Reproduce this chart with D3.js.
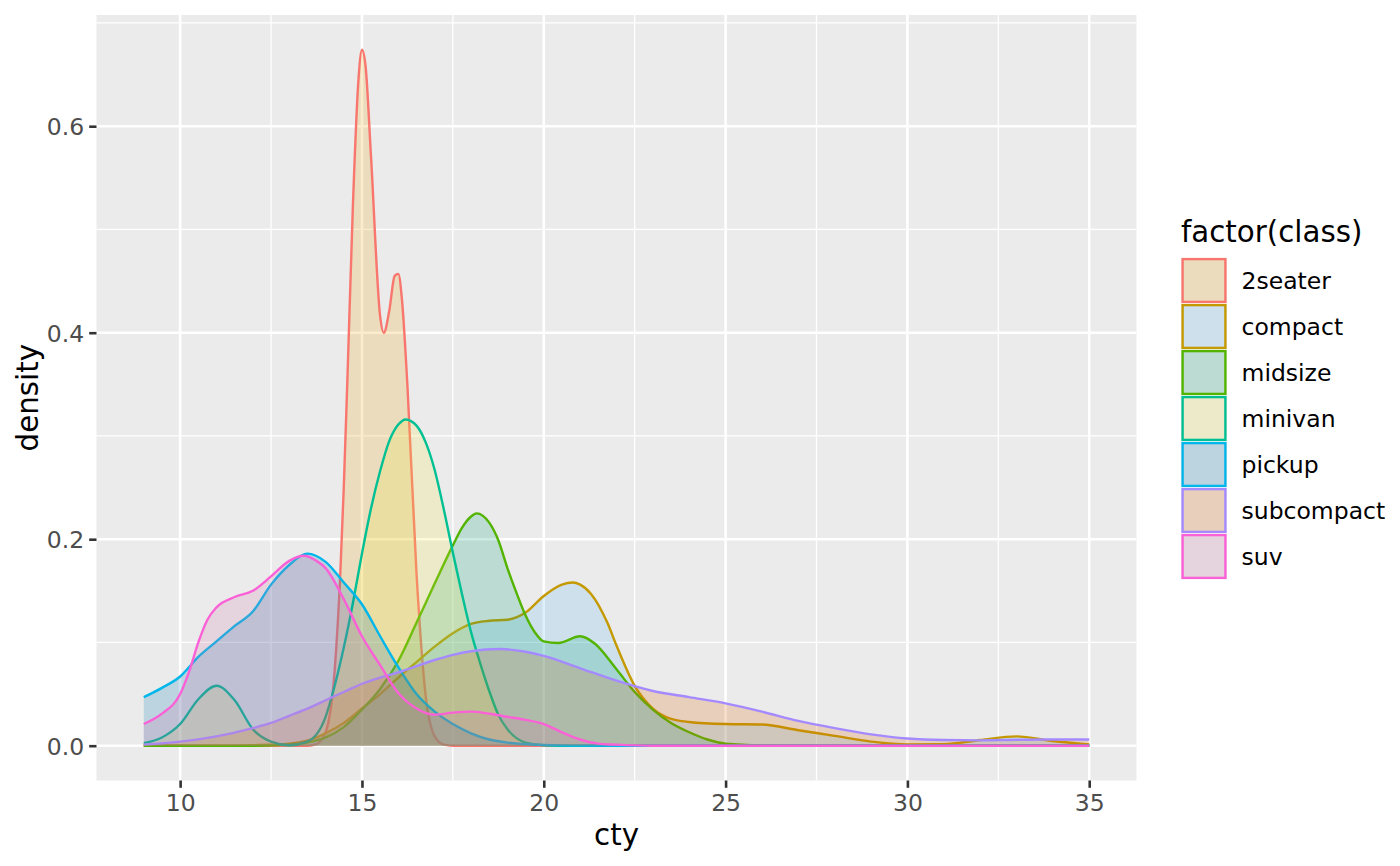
<!DOCTYPE html>
<html>
<head>
<meta charset="utf-8">
<script src="https://cdn.jsdelivr.net/npm/d3@7"></script>
<style>
  html, body { margin: 0; padding: 0; background: #ffffff; }
  svg { display: block; font-family: "DejaVu Sans", sans-serif; }
</style>
</head>
<body>
<svg id="chart" width="1400" height="866"></svg>
<script>
// ---------------- data ----------------
const classes = ["2seater", "compact", "midsize", "minivan", "pickup", "subcompact", "suv"];
const xTicks = [10, 15, 20, 25, 30, 35];
const yTicks = [0.0, 0.2, 0.4, 0.6];
const yTickLabels = ["0.0", "0.2", "0.4", "0.6"];

const dens2seater = [[9,0],[13.5,0],[13.75,0.0015],[14,0.013],[14.25,0.073],[14.4,0.163],[14.5,0.25],[14.6,0.355],[14.75,0.522],[14.9,0.643],[15,0.674],[15.1,0.658],[15.25,0.57],[15.5,0.416],[15.6,0.4],[15.75,0.421],[15.9,0.455],[16,0.457],[16.1,0.432],[16.25,0.349],[16.5,0.167],[16.75,0.049],[17,0.009],[17.25,0.001],[17.5,0],[35,0]];
const densCompact = [[9,0],[11,0],[12,0.0005],[13,0.002],[13.5,0.005],[14,0.012],[14.5,0.022],[15,0.036],[15.5,0.05],[16,0.066],[16.5,0.081],[17,0.096],[17.5,0.109],[18,0.118],[18.5,0.121],[19,0.122],[19.5,0.129],[20,0.145],[20.5,0.156],[20.8,0.158],[21,0.156],[21.3,0.147],[21.75,0.119],[22,0.097],[22.5,0.058],[23,0.036],[23.5,0.026],[24,0.023],[25,0.021],[26,0.0205],[27,0.015],[28,0.0095],[29,0.004],[30,0.0012],[31,0.0015],[32,0.0055],[33,0.009],[34,0.0045],[35,0.0012]];
const densMidsize = [[9,0],[12,0],[13,0.001],[13.5,0.003],[14,0.008],[14.5,0.018],[15,0.035],[15.5,0.055],[16,0.082],[16.5,0.119],[17,0.157],[17.5,0.194],[17.75,0.211],[18,0.222],[18.15,0.225],[18.5,0.216],[18.75,0.199],[19,0.172],[19.25,0.148],[19.5,0.126],[19.75,0.11],[20,0.101],[20.4,0.0995],[21,0.106],[21.4,0.099],[22,0.074],[22.5,0.052],[23,0.035],[23.5,0.022],[24,0.013],[24.5,0.006],[25,0.002],[26,0.0003],[27,0],[35,0]];
const densMinivan = [[9,0.0025],[9.5,0.008],[10,0.021],[10.5,0.045],[11,0.058],[11.5,0.044],[12,0.016],[12.5,0.004],[13,0.0005],[13.5,0.004],[14,0.028],[14.25,0.058],[14.5,0.095],[14.75,0.138],[15,0.186],[15.25,0.23],[15.5,0.266],[15.75,0.295],[16,0.311],[16.2,0.316],[16.5,0.31],[16.75,0.294],[17,0.267],[17.25,0.229],[17.5,0.187],[17.75,0.147],[18,0.11],[18.25,0.08],[18.5,0.053],[18.75,0.03],[19,0.016],[19.5,0.003],[20,0.0005],[21,0],[35,0]];
const densPickup = [[9,0.047],[9.5,0.056],[10,0.067],[10.5,0.086],[11,0.101],[11.5,0.116],[12,0.13],[12.5,0.156],[13,0.175],[13.5,0.186],[14,0.178],[14.5,0.158],[15,0.137],[15.5,0.106],[16,0.076],[16.5,0.05],[17,0.033],[17.5,0.021],[18,0.012],[18.5,0.006],[19,0.003],[20,0.0008],[21,0.0001],[22,0],[35,0]];
const densSubcompact = [[9,0.001],[10,0.004],[11,0.009],[12,0.017],[12.5,0.022],[13,0.029],[13.5,0.036],[14,0.044],[14.5,0.052],[15,0.06],[15.5,0.066],[16,0.071],[17,0.083],[17.5,0.088],[18,0.0915],[18.8,0.0936],[19.5,0.091],[20,0.087],[21,0.075],[22,0.063],[23,0.053],[24,0.047],[25,0.041],[26,0.033],[27,0.024],[28,0.017],[29,0.011],[30,0.007],[31,0.0055],[32,0.0052],[33,0.0057],[34,0.006],[35,0.006]];
const densSuv = [[9,0.021],[9.5,0.031],[10,0.05],[10.25,0.072],[10.5,0.1],[10.75,0.122],[11,0.134],[11.5,0.144],[12,0.15],[12.5,0.164],[13,0.179],[13.4,0.184],[13.75,0.179],[14,0.172],[14.5,0.142],[15,0.106],[15.5,0.078],[16,0.051],[16.5,0.036],[17,0.03],[17.5,0.032],[18,0.033],[18.5,0.031],[19,0.028],[19.5,0.025],[20,0.021],[20.5,0.013],[21,0.006],[21.5,0.002],[22,0.001],[23,0],[35,0]];

const seriesData = [dens2seater, densCompact, densMidsize, densMinivan, densPickup, densSubcompact, densSuv];

// ---------------- styles ----------------
const lineColors = ["#F8766D", "#C49A00", "#53B400", "#00C094", "#00B6EB", "#A58AFF", "#FB61D7"];
const fillColors = ["#E69F00", "#56B4E9", "#009E73", "#F0E442", "#0072B2", "#D55E00", "#CC79A7"];
const fillOpacity = 0.2;
const lineW = 2.4;

// ---------------- layout ----------------
const panel = { left: 96.5, right: 1136.5, top: 15, bottom: 780.5 };
const svg = d3.select("#chart");

const allX = seriesData.flat().map(d => d[0]);
const allY = seriesData.flat().map(d => d[1]);
const [xMin, xMax] = d3.extent(allX);
const [yMin, yMax] = d3.extent(allY);
const xPad = (xMax - xMin) * 0.05, yPad = (yMax - yMin) * 0.05;

const x = d3.scaleLinear().domain([xMin - xPad, xMax + xPad]).range([panel.left, panel.right]);
const y = d3.scaleLinear().domain([yMin - yPad, yMax + yPad]).range([panel.bottom, panel.top]);

// panel background
svg.append("rect")
  .attr("x", panel.left).attr("y", panel.top)
  .attr("width", panel.right - panel.left).attr("height", panel.bottom - panel.top)
  .attr("fill", "#EBEBEB");

const gridG = svg.append("g");
// minor grid (midway between major breaks)
const xMinor = [];
for (let i = 0; i < xTicks.length + 1; i++) {
  const v = (i === 0 ? xTicks[0] - 2.5 : xTicks[i - 1] + 2.5);
  if (v > x.domain()[0] && v < x.domain()[1]) xMinor.push(v);
}
const yMinor = [];
for (let i = 0; i < yTicks.length + 1; i++) {
  const v = (i === 0 ? yTicks[0] - 0.1 : yTicks[i - 1] + 0.1);
  if (v > y.domain()[0] && v < y.domain()[1]) yMinor.push(+v.toFixed(3));
}
gridG.selectAll(".xminor").data(xMinor).enter().append("line")
  .attr("x1", d => x(d)).attr("x2", d => x(d)).attr("y1", panel.top).attr("y2", panel.bottom)
  .attr("stroke", "#ffffff").attr("stroke-width", 1.3);
gridG.selectAll(".yminor").data(yMinor).enter().append("line")
  .attr("y1", d => y(d)).attr("y2", d => y(d)).attr("x1", panel.left).attr("x2", panel.right)
  .attr("stroke", "#ffffff").attr("stroke-width", 1.3);
gridG.selectAll(".xmajor").data(xTicks).enter().append("line")
  .attr("x1", d => x(d)).attr("x2", d => x(d)).attr("y1", panel.top).attr("y2", panel.bottom)
  .attr("stroke", "#ffffff").attr("stroke-width", 2.6);
gridG.selectAll(".ymajor").data(yTicks).enter().append("line")
  .attr("y1", d => y(d)).attr("y2", d => y(d)).attr("x1", panel.left).attr("x2", panel.right)
  .attr("stroke", "#ffffff").attr("stroke-width", 2.6);

// densities
const area = d3.area().x(d => x(d[0])).y0(y(0)).y1(d => y(d[1])).curve(d3.curveMonotoneX);
const line = d3.line().x(d => x(d[0])).y(d => y(d[1])).curve(d3.curveMonotoneX);
const plotG = svg.append("g");
seriesData.forEach((s, i) => {
  const g = plotG.append("g");
  g.append("path").attr("d", area(s)).attr("fill", fillColors[i]).attr("fill-opacity", fillOpacity);
  g.append("path").attr("d", line(s)).attr("fill", "none").attr("stroke", lineColors[i])
    .attr("stroke-width", lineW).attr("stroke-linejoin", "round");
});

// axes
const xAxis = d3.axisBottom(x).tickValues(xTicks).tickSize(7.3).tickPadding(4).tickFormat(d3.format("d"));
const yAxis = d3.axisLeft(y).tickValues(yTicks).tickSize(7.3).tickPadding(5)
  .tickFormat((d, i) => yTickLabels[i]);

const gx = svg.append("g").attr("transform", `translate(0,${panel.bottom})`).call(xAxis);
const gy = svg.append("g").attr("transform", `translate(${panel.left},0)`).call(yAxis);
[gx, gy].forEach(g => {
  g.select(".domain").remove();
  g.selectAll(".tick line").attr("stroke", "#333333").attr("stroke-width", 2.6);
  g.selectAll(".tick text").attr("fill", "#4D4D4D").attr("font-size", 23.5)
    .attr("font-family", "DejaVu Sans");
});
gx.selectAll(".tick text").attr("dy", null).attr("y", 30);
gy.selectAll(".tick text").attr("dy", "0.36em");

// axis titles
svg.append("text").attr("x", (panel.left + panel.right) / 2).attr("y", 845)
  .attr("text-anchor", "middle").attr("font-size", 29.3).attr("fill", "#000").text("cty");
svg.append("text")
  .attr("transform", `translate(37.5,${(panel.top + panel.bottom) / 2}) rotate(-90)`)
  .attr("text-anchor", "middle").attr("font-size", 29.3).attr("fill", "#000").text("density");

// legend
const leg = svg.append("g");
leg.append("text").attr("x", 1181).attr("y", 241.5).attr("font-size", 29.3).attr("fill", "#000")
  .text("factor(class)");
const keyTop = 257.5, keyH = 46, keyW = 46, keyX = 1181;
classes.forEach((c, i) => {
  const ky = keyTop + i * keyH;
  leg.append("rect").attr("x", keyX).attr("y", ky + 0.5).attr("width", keyW).attr("height", keyH - 1)
    .attr("fill", "#EBEBEB");
  leg.append("rect").attr("x", keyX + 1.6).attr("y", ky + 1.6).attr("width", keyW - 3.2).attr("height", keyH - 3.2)
    .attr("fill", fillColors[i]).attr("fill-opacity", fillOpacity)
    .attr("stroke", lineColors[i]).attr("stroke-width", lineW);
  leg.append("text").attr("x", 1241.5).attr("y", ky + keyH / 2).attr("dy", "0.36em")
    .attr("font-size", 23.5).attr("fill", "#000").text(c);
});
</script>
</body>
</html>
